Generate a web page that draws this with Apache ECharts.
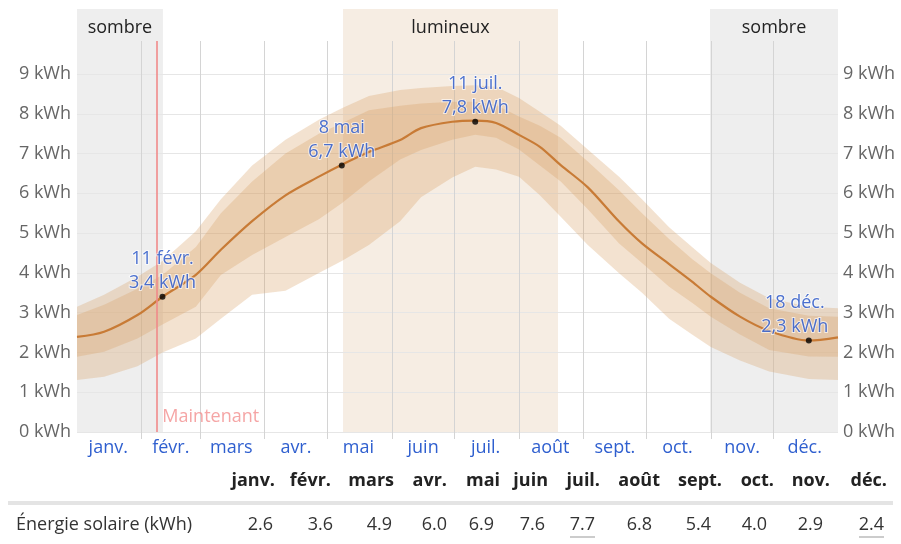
<!DOCTYPE html>
<html><head><meta charset="utf-8">
<script src="https://cdn.jsdelivr.net/npm/echarts@6/dist/echarts.min.js"></script>
<style>html,body{margin:0;padding:0;background:#fff}#c{width:901px;height:544px}</style>
</head><body><div id="c"></div>
<script>
// ---- data ----
const monthLabels = ['janv.','févr.','mars','avr.','mai','juin','juil.','août','sept.','oct.','nov.','déc.'];
const monthStarts = [0,31,59,90,120,151,181,212,243,273,304,334,365];
const days = [0,13,29,41,57,69,84,100,116,127,140,155,165,180,191,201,212,222,232,245,260,271,284,295,304,318,332,351,365];
const p50 = [2.39,2.52,2.94,3.40,3.95,4.58,5.30,5.95,6.42,6.72,7.04,7.34,7.64,7.80,7.83,7.77,7.47,7.17,6.71,6.15,5.29,4.74,4.22,3.78,3.40,2.90,2.54,2.30,2.38];
const p75 = [2.94,3.20,3.60,3.95,4.65,5.50,6.30,7.00,7.50,7.76,8.09,8.20,8.26,8.30,8.30,8.22,7.93,7.70,7.40,6.80,6.08,5.50,4.85,4.35,3.99,3.50,3.11,2.92,2.90];
const p90 = [3.15,3.45,3.90,4.30,5.05,5.85,6.70,7.35,7.85,8.14,8.45,8.60,8.65,8.70,8.72,8.68,8.40,8.05,7.70,7.10,6.42,5.85,5.15,4.65,4.25,3.75,3.36,3.15,3.11];
const p25 = [1.89,2.02,2.35,2.70,3.15,3.95,4.45,4.90,5.35,5.75,6.30,6.85,7.09,7.35,7.47,7.40,7.10,6.70,6.30,5.60,4.74,4.25,3.65,3.25,2.90,2.45,2.06,1.90,1.89];
const p10 = [1.31,1.39,1.65,2.00,2.35,2.85,3.45,3.55,4.00,4.30,4.70,5.30,5.90,6.40,6.67,6.60,6.42,5.95,5.41,4.70,3.99,3.50,2.85,2.45,2.14,1.80,1.52,1.33,1.31];
const periods = [
  {name:'sombre', from:0, to:41.2, kind:'dark'},
  {name:'lumineux', from:127.6, to:230.7, kind:'bright'},
  {name:'sombre', from:303.6, to:365, kind:'dark'}
];
const nowDay = 38.3;
const nowLabel = 'Maintenant';
const extremeDays = [41, 127, 191, 351];
const extremeValues = [3.4, 6.7, 7.8, 2.3];
const extremeDates = ['11 févr.', '8 mai', '11 juil.', '18 déc.'];
const tableRowLabel = 'Énergie solaire (kWh)';
const monthlyEnergy = [2.6,3.6,4.9,6.0,6.9,7.6,7.7,6.8,5.4,4.0,2.9,2.4];

// ---- layout / style ----
const FONT = '"Open Sans", "Noto Sans", sans-serif';
const headerRight = [275,331,394,447,500,548,600,660,722,774,830,887];
const valueRight  = [273,333,392,447,494,545,595,652,711,767,823,884];
const bandColor = 'rgba(214,160,100,0.30)';

const midIdx = monthStarts.slice(0,12).map((s,i)=>Math.floor((s+monthStarts[i+1])/2));
const catData = Array.from({length:366},(_,i)=>String(i));
const pairs = arr => days.map((d,i)=>[d, arr[i]]);

function bandSeries(lo, hi, z) {
  return {type:'custom', xAxisIndex:0, yAxisIndex:0, z:z, silent:true, data:[[0]],
    renderItem:(params, api)=>{
      const top = days.map((d,i)=>api.coord([d, hi[i]]));
      const bot = days.map((d,i)=>api.coord([d, lo[i]])).reverse();
      return {type:'polygon', shape:{points: top.concat(bot)}, style:{fill:bandColor}};
    }
  };
}

const chart = echarts.init(document.getElementById('c'), null, {renderer:'canvas'});

const graphics = [];
monthLabels.forEach((m,i)=>{
  graphics.push({type:'text', x:headerRight[i], y:481, style:{text:m, font:'bold 18px '+FONT, fill:'#222', align:'right', verticalAlign:'middle'}});
});
graphics.push({type:'rect', shape:{x:8, y:501, width:885, height:4}, style:{fill:'#e4e4e4'}});
graphics.push({type:'text', x:16, y:525, style:{text:tableRowLabel, font:'18px '+FONT, fill:'#333', align:'left', verticalAlign:'middle'}});
const maxV = Math.max(...monthlyEnergy), minV = Math.min(...monthlyEnergy);
monthlyEnergy.forEach((v,i)=>{
  graphics.push({type:'text', x:valueRight[i], y:525, style:{text:v.toFixed(1), font:'18px '+FONT, fill:'#333', align:'right', verticalAlign:'middle'}});
  if (v === maxV || v === minV) {
    graphics.push({type:'line', shape:{x1:valueRight[i]-25, y1:537, x2:valueRight[i], y2:537}, style:{stroke:'#999', lineWidth:1}});
  }
});

const option = {
  animation: false,
  backgroundColor: '#fff',
  textStyle: {fontFamily: FONT},
  grid: [
    {left:77, right:63, top:41, bottom:112},
    {left:77, right:63, top:9, bottom:112}
  ],
  xAxis: [
    {type:'value', gridIndex:0, min:0, max:365, show:false, position:'bottom'},
    {type:'category', gridIndex:0, position:'bottom', data:catData, boundaryGap:false, z:1,
      axisLine:{show:false},
      axisTick:{show:true, length:7, interval:(i)=>monthStarts.indexOf(i)>0 && i<365, lineStyle:{color:'#d4d4d4', width:1}},
      splitLine:{show:true, interval:(i)=>monthStarts.indexOf(i)>0 && i<365, lineStyle:{color:'#d4d4d4', width:1}},
      axisLabel:{show:true, interval:(i)=>midIdx.indexOf(i)>=0, formatter:(v,i)=>monthLabels[midIdx.indexOf(+v)] || '', color:'#2f5fcf', fontSize:18, fontFamily:FONT, margin:7}
    },
    {type:'value', gridIndex:1, min:0, max:365, show:false}
  ],
  yAxis: [
    {type:'value', gridIndex:0, min:0, max:9.83, interval:1, z:1,
      axisLine:{show:false}, axisTick:{show:false},
      splitLine:{show:true, showMaxLine:false, lineStyle:{color:'#e6e6e6', width:1}},
      axisLabel:{formatter:v=>Number.isInteger(v)? v+' kWh' : '', color:'#666', fontSize:18, fontFamily:FONT, margin:6, showMaxLabel:false}
    },
    {type:'value', gridIndex:0, min:0, max:9.83, interval:1, position:'right',
      axisLine:{show:false}, axisTick:{show:false}, splitLine:{show:false},
      axisLabel:{formatter:v=>Number.isInteger(v)? v+' kWh' : '', color:'#666', fontSize:18, fontFamily:FONT, margin:5, showMaxLabel:false}
    },
    {type:'value', gridIndex:1, min:0, max:1, show:false}
  ],
  series: [
    {type:'custom', xAxisIndex:2, yAxisIndex:2, z:0, silent:true,
      data: periods.map(p=>[p.from, p.to]),
      renderItem:(params, api)=>{
        const a = api.coord([api.value(0), 1]);
        const b = api.coord([api.value(1), 0]);
        const p = periods[params.dataIndex];
        return {type:'group', children:[
          {type:'rect', shape:{x:a[0], y:a[1], width:b[0]-a[0], height:b[1]-a[1]}, style:{fill: p.kind==='dark' ? '#eeeeee' : '#f6ede3'}},
          {type:'text', style:{text: p.name, x:(a[0]+b[0])/2, y:a[1]+19, align:'center', verticalAlign:'middle', font:'18px '+FONT, fill:'#222'}}
        ]};
      }
    },
    bandSeries(p10, p90, 2),
    bandSeries(p25, p75, 3),
    {type:'line', xAxisIndex:0, yAxisIndex:0, data:pairs(p50), symbol:'none', smooth:0.3, lineStyle:{color:'#c87b36', width:2.2}, z:4,
      markLine:{silent:true, symbol:'none', label:{show:false}, lineStyle:{color:'#f08a8a', width:1.6, type:'solid'}, data:[{xAxis:nowDay}]}
    },
    {type:'scatter', xAxisIndex:0, yAxisIndex:0, z:5, silent:true, symbolSize:1, itemStyle:{color:'rgba(0,0,0,0)'},
      data:[[nowDay, 0]],
      label:{show:true, position:'right', distance:5, offset:[0,-15], formatter:nowLabel, color:'#f28f8f', fontSize:18, fontFamily:FONT}
    },
    {type:'scatter', xAxisIndex:0, yAxisIndex:0, z:10, silent:true, symbolSize:6, itemStyle:{color:'#000'},
      data: extremeDays.map((d,i)=>({value:[d, extremeValues[i]], label: i===3 ? {offset:[-14,0]} : {}})),
      label:{show:true, position:'top', distance:-1, color:'#1f4dc4', fontSize:18, lineHeight:24, fontFamily:FONT, align:'center',
        textBorderColor:'rgba(255,255,255,0.8)', textBorderWidth:2,
        formatter:p=>extremeDates[p.dataIndex]+'\n'+String(extremeValues[p.dataIndex]).replace('.',',')+' kWh'}
    }
  ],
  graphic: graphics
};
chart.setOption(option);
</script>
</body></html>
